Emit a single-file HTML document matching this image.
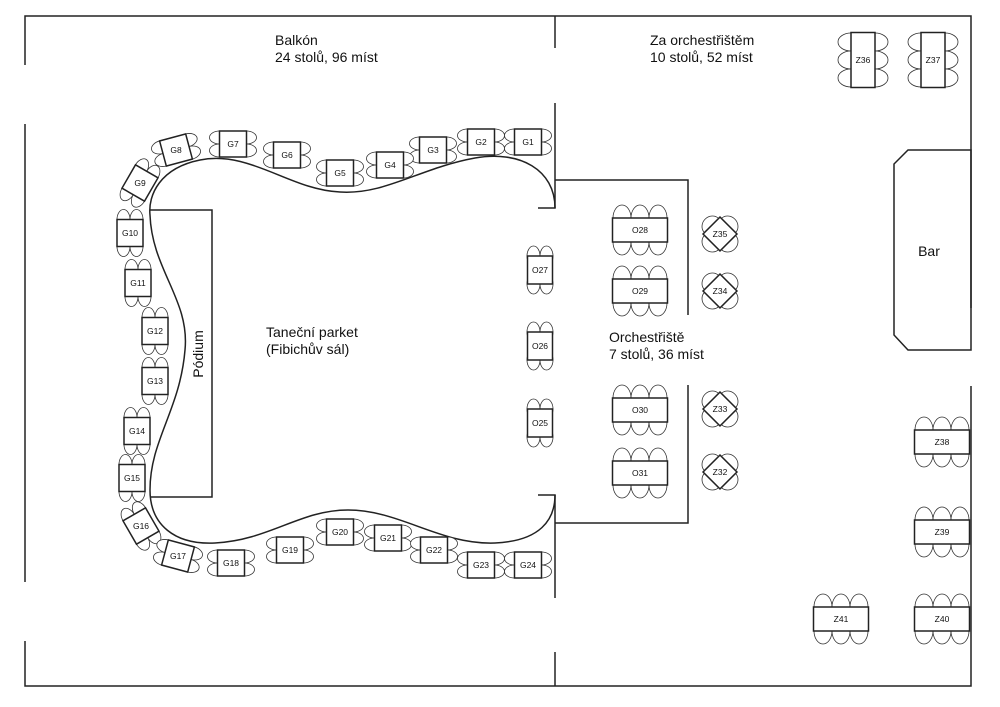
<!DOCTYPE html>
<html><head><meta charset="utf-8"><style>
html,body{margin:0;padding:0;background:#fff}
svg{display:block}
text{font-family:"Liberation Sans",sans-serif;fill:#111}
.w{stroke:#222;stroke-width:1.5;fill:none}
.t{stroke:#222;stroke-width:1.5;fill:#fff}
.c{stroke:#333;stroke-width:0.8;fill:#fff}
.lbl{font-size:8.5px;text-anchor:middle;dominant-baseline:central}
.big{font-size:14px}
</style></head><body>
<svg id="s" width="1000" height="707" viewBox="0 0 1000 707" xmlns="http://www.w3.org/2000/svg">
<g class="w">
<path d="M25 65 V16 H971 V308"/>
<path d="M25 124 V582"/>
<path d="M25 641 V686 H971 V386"/>
<path d="M555 16 V48"/>
<path d="M555 103 V208 H538"/>
<path d="M555 180 H688 V315"/>
<path d="M688 385 V523 H555"/>
<path d="M538 495 H555 V598"/>
<path d="M555 652 V686"/>
<path d="M908 150 H971 V350 H908 L894 335 V164 Z"/>
<path d="M150 210 H212 V497 H150"/>
<path d="M555 208 C555 170 520 150 475 158 C420 168 385 195 340 192 C290 190 250 150 200 160 C160 168 148 195 150 215 C152 270 190 300 185 350 C180 410 150 440 150 490 C150 525 175 545 215 543 C270 540 300 510 348 510 C400 510 440 545 495 543 C540 541 555 520 555 495"/>
</g>
<text class="big" x="275" y="45">Balkón</text>
<text class="big" x="275" y="62">24 stolů, 96 míst</text>
<text class="big" x="650" y="45">Za orchestřištěm</text>
<text class="big" x="650" y="62">10 stolů, 52 míst</text>
<text class="big" x="266" y="337">Taneční parket</text>
<text class="big" x="266" y="354">(Fibichův sál)</text>
<text class="big" x="609" y="342">Orchestřiště</text>
<text class="big" x="609" y="359">7 stolů, 36 míst</text>
<text class="big" x="929" y="256" text-anchor="middle">Bar</text>
<text class="big" transform="translate(203,354) rotate(-90)" text-anchor="middle">Pódium</text>
<g id="tb"></g>
</svg>
<script>
var NS="http://www.w3.org/2000/svg",tb=document.getElementById("tb");
function el(n,a,p){var e=document.createElementNS(NS,n);for(var k in a)e.setAttribute(k,a[k]);p.appendChild(e);return e;}
function g(x,y,r){return el("g",{transform:"translate("+x+","+y+") rotate("+(r||0)+")"},tb);}
function lab(p,s,r){var t=el("text",{"class":"lbl",x:0,y:0,transform:"rotate("+(-(r||0))+")"},p);t.textContent=s;}
// horizontal-chair G table (chairs left/right)
function GH(n,x,y,r){var p=g(x,y,r);[-6.5,6.5].forEach(function(d){el("ellipse",{"class":"c",cx:-13.5,cy:d,rx:10,ry:6.5},p);el("ellipse",{"class":"c",cx:13.5,cy:d,rx:10,ry:6.5},p);});el("rect",{"class":"t",x:-13.5,y:-13,width:27,height:26},p);lab(p,n,r);}
function GV(n,x,y,r,w,h){w=w||26;h=h||27;var p=g(x,y,r);[-6.5,6.5].forEach(function(d){el("ellipse",{"class":"c",cx:d,cy:-h/2,rx:6.5,ry:10},p);el("ellipse",{"class":"c",cx:d,cy:h/2,rx:6.5,ry:10},p);});el("rect",{"class":"t",x:-w/2,y:-h/2,width:w,height:h},p);lab(p,n,r);}
function RH(n,x,y){var p=g(x,y,0);[-18,0,18].forEach(function(d){el("ellipse",{"class":"c",cx:d,cy:-12,rx:9,ry:13},p);el("ellipse",{"class":"c",cx:d,cy:12,rx:9,ry:13},p);});el("rect",{"class":"t",x:-27.5,y:-12,width:55,height:24},p);lab(p,n);}
function RV(n,x,y){var p=g(x,y,0);[-18,0,18].forEach(function(d){el("ellipse",{"class":"c",cx:-12,cy:d,rx:13,ry:9},p);el("ellipse",{"class":"c",cx:12,cy:d,rx:13,ry:9},p);});el("rect",{"class":"t",x:-12,y:-27.5,width:24,height:55},p);lab(p,n);}
function ZD(n,x,y){var p=g(x,y,45);[[0,-12,10,9],[0,12,10,9],[-12,0,9,10],[12,0,9,10]].forEach(function(a){el("ellipse",{"class":"c",cx:a[0],cy:a[1],rx:a[2],ry:a[3]},p);});el("rect",{"class":"t",x:-12,y:-12,width:24,height:24},p);lab(p,n,45);}
GH("G1",528,142);GH("G2",481,142);GH("G3",433,150);GH("G4",390,165);GH("G5",340,173);
GH("G6",287,155);GH("G7",233,144);GH("G8",176,150,-15);GV("G9",140,183,30);
GV("G10",130,233);GV("G11",138,283);GV("G12",155,331);GV("G13",155,381);GV("G14",137,431);GV("G15",132,478);
GV("G16",141,526,-30);GH("G17",178,556,15);GH("G18",231,563);GH("G19",290,550);GH("G20",340,532);
GH("G21",388,538);GH("G22",434,550);GH("G23",481,565);GH("G24",528,565);
GV("O27",540,270,0,25,28);GV("O26",540,346,0,25,28);GV("O25",540,423,0,25,28);
RH("O28",640,230);RH("O29",640,291);RH("O30",640,410);RH("O31",640,473);
ZD("Z35",720,234);ZD("Z34",720,291);ZD("Z33",720,409);ZD("Z32",720,472);
RV("Z36",863,60);RV("Z37",933,60);
RH("Z38",942,442);RH("Z39",942,532);RH("Z40",942,619);RH("Z41",841,619);
</script>
</body></html>
